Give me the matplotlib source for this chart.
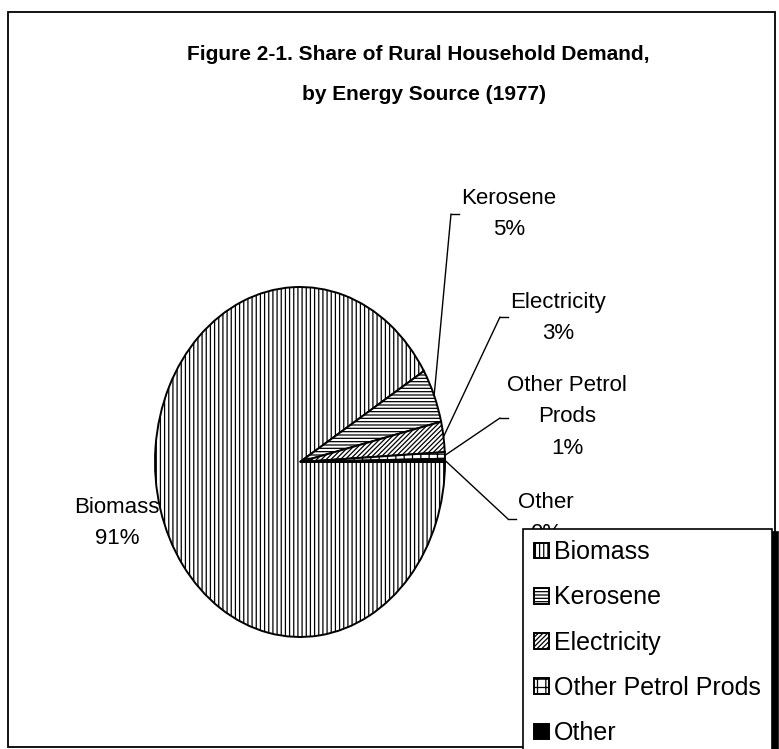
import matplotlib
matplotlib.use('Agg')
import matplotlib.pyplot as plt
from matplotlib.patches import Rectangle
from matplotlib.lines import Line2D
import numpy as np

plt.rcParams['font.family'] = ['Liberation Sans', 'DejaVu Sans']
plt.rcParams['hatch.linewidth'] = 0.9

# data (legend order)
sources = ['Biomass', 'Kerosene', 'Electricity', 'Other Petrol Prods', 'Other']
shares = [91.3, 5.0, 2.8, 0.6, 0.3]
label_names = ['Biomass', 'Kerosene', 'Electricity', 'Other Petrol\nProds', 'Other']
hatches = ['||||', '-----', '///////', '++', '']
fills = ['white', 'white', 'white', 'white', 'black']

W, H = 779, 749


def fx(x):
    return x / W


def fy(y):
    return 1 - y / H


fig = plt.figure(figsize=(W / 100, H / 100), dpi=100)

# outer frame
fig.add_artist(Rectangle((fx(8), fy(747)), fx(775) - fx(8), fy(12) - fy(747),
                         transform=fig.transFigure, fill=False, ec='black', lw=1.3))

fig.text(fx(418), fy(55), 'Figure 2-1. Share of Rural Household Demand,',
         ha='center', va='center', fontsize=15, fontweight='bold')
fig.text(fx(424), fy(95), 'by Energy Source (1977)',
         ha='center', va='center', fontsize=15, fontweight='bold')

# pie drawn as an ellipse (stretched axes)
ax = fig.add_axes([fx(155), fy(637), fx(445) - fx(155), fy(287) - fy(637)])
wedges, _ = ax.pie(shares, startangle=0, counterclock=False, radius=1,
                   wedgeprops=dict(edgecolor='black', linewidth=1.4))
for w, h, c in zip(wedges, hatches, fills):
    w.set_hatch(h)
    w.set_facecolor(c)
ax.set_aspect('auto')
ax.set_xlim(-1, 1)
ax.set_ylim(-1, 1)
ax.axis('off')

# label text positions (figure pixels, centre of first line) and leader line ends
label_pos = [(117, 507), (509, 198), (558, 302), (567, 385), (546, 502)]
leader_end = [None, (451, 214), (500, 317), (500, 418), (508, 519)]

for i, (w, name, val) in enumerate(zip(wedges, label_names, shares)):
    x, y = label_pos[i]
    txt = name + '\n' + '%d%%' % round(val)
    fig.text(fx(x), fy(y - 10), txt, ha='center', va='top', fontsize=16,
             linespacing=1.65)
    if leader_end[i] is not None:
        mid = np.deg2rad((w.theta1 + w.theta2) / 2)
        ex, ey = leader_end[i]
        ax.annotate('', xy=(np.cos(mid), np.sin(mid)), xycoords='data',
                    xytext=(fx(ex), fy(ey)), textcoords='figure fraction',
                    arrowprops=dict(arrowstyle='-', color='black', lw=1.0,
                                    shrinkA=0, shrinkB=0))
        fig.add_artist(Line2D([fx(ex), fx(ex + 8)], [fy(ey), fy(ey)],
                              transform=fig.transFigure, color='black', lw=1.0))

leg = fig.legend(wedges, sources, loc='upper left',
                 bbox_to_anchor=(fx(523), fy(529)), bbox_transform=fig.transFigure,
                 fontsize=18, frameon=True, fancybox=False,
                 shadow={'color': 'black', 'alpha': 1, 'ox': 4, 'oy': -2},
                 borderaxespad=0, borderpad=0.45, handlelength=0.6, handleheight=0.6,
                 handletextpad=0.2, labelspacing=0.85)
leg.get_frame().set_edgecolor('black')
leg.get_frame().set_linewidth(1.2)
leg.get_frame().set_alpha(1)
leg.set_zorder(10)

fig.savefig('out.png', dpi=100)
